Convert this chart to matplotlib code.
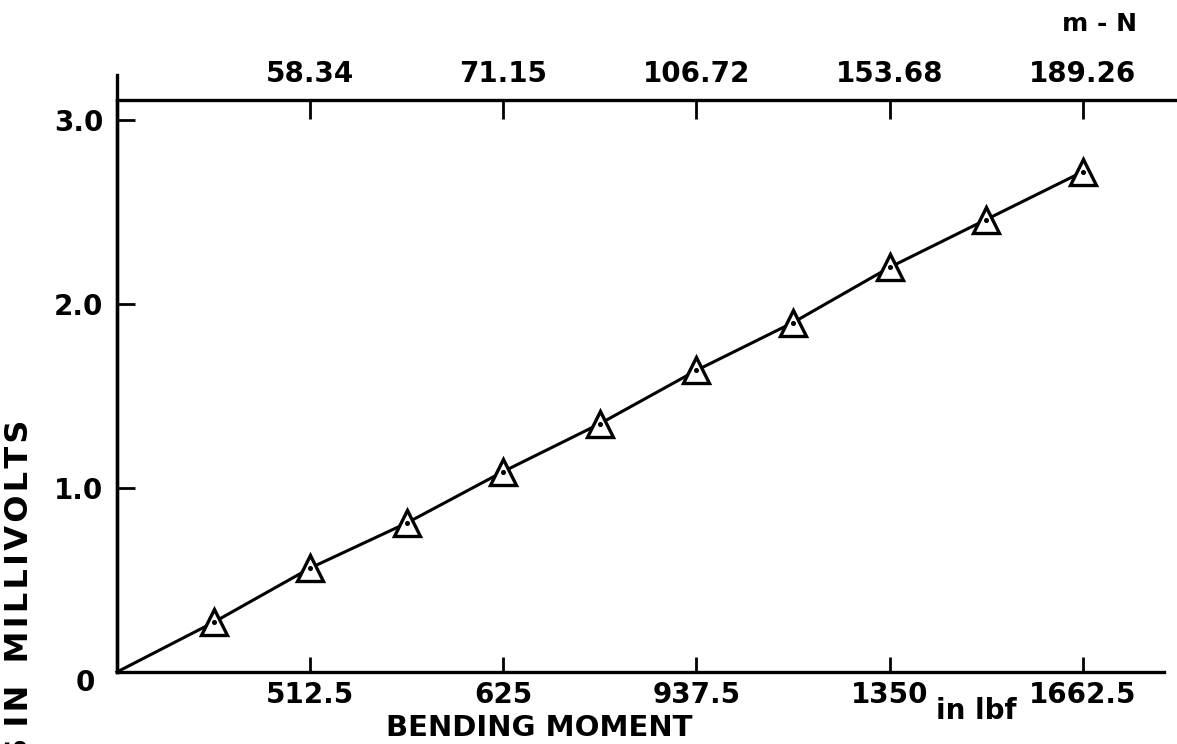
import matplotlib
matplotlib.use("Agg")
import matplotlib.pyplot as plt

# calibration points: bending moment step vs. output (mV)
moment_pos = [0.0, 0.5, 1.0, 1.5, 2.0, 2.5, 3.0, 3.5, 4.0, 4.5, 5.0]
millivolts = [0.0, 0.27, 0.565, 0.81, 1.09, 1.35, 1.64, 1.90, 2.20, 2.46, 2.72]

tick_pos = [1, 2, 3, 4, 5]
lbf_labels = ["512.5", "625", "937.5", "1350", "1662.5"]
mn_labels = ["58.34", "71.15", "106.72", "153.68", "189.26"]
mv_ticks = [0, 1.0, 2.0, 3.0]
mv_labels = ["0", "1.0", "2.0", "3.0"]
ylabel_words = ["READINGS", "IN", "MILLIVOLTS"]

plt.rcParams["font.family"] = "DejaVu Sans"
plt.rcParams["font.weight"] = "bold"

fig = plt.figure(figsize=(11.77, 7.44), dpi=100)
ax = fig.add_axes([0.0994, 0.0968, 0.8895, 0.7688])

xmax, ymax = 5.42, 3.11
ax.set_xlim(0, xmax)
ax.set_ylim(0, ymax)

# line through the points, open triangles with a centre dot
ax.plot(moment_pos, millivolts, color="black", lw=2.2, zorder=2, clip_on=False)
ax.plot(moment_pos[1:], millivolts[1:], ls="none", marker="^", ms=19,
        mfc="white", mec="black", mew=2.4, zorder=3)
ax.plot(moment_pos[1:], millivolts[1:], ls="none", marker="o", ms=2.6,
        color="black", zorder=4)

for side in ["top", "right"]:
    ax.spines[side].set_visible(False)
for side in ["left", "bottom"]:
    ax.spines[side].set_linewidth(2.4)

# top border runs past the right end, left border sticks up above it
ax.plot([0, 5.49], [ymax, ymax], color="black", lw=2.4, clip_on=False)
ax.plot([0, 0], [0, 3.245], color="black", lw=2.4, clip_on=False)

ax.set_xticks(tick_pos)
ax.set_xticklabels(lbf_labels)
# the zero label sits a little low, so it is placed by hand
ax.set_yticks(mv_ticks)
ax.set_yticklabels([""] + mv_labels[1:])
ax.annotate(mv_labels[0], xy=(0, mv_ticks[0]), xytext=(-16, -8),
            textcoords="offset points", fontsize=20, ha="right", va="center")
ax.tick_params(axis="x", direction="in", length=11, width=2, pad=6.5, labelsize=20)
ax.tick_params(axis="y", direction="in", length=13, width=2, pad=10, labelsize=20)
ax.yaxis.get_major_ticks()[0].tick1line.set_visible(False)

ax2 = ax.twiny()
ax2.set_xlim(0, xmax)
ax2.set_xticks(tick_pos)
ax2.set_xticklabels(mn_labels)
ax2.tick_params(axis="x", direction="in", length=14, width=2, pad=8.5, labelsize=20)
for s in ax2.spines.values():
    s.set_visible(False)

fig.text(539 / 1177, 1 - 728 / 744, "BENDING MOMENT", fontsize=21,
         ha="center", va="center")
fig.text(976 / 1177, 1 - 711 / 744, "in lbf", fontsize=20,
         ha="center", va="center")
fig.text(1100 / 1177, 1 - 24 / 744, "m - N", fontsize=18,
         ha="center", va="center")

# widely lettered axis title, hair spaces between letters
w = ["\u200a".join(word) for word in ylabel_words]
spaced = w[0] + " " + w[1] + "  " + w[2]
fig.text(20 / 1177, 1 - 420 / 744, spaced, fontsize=23,
         rotation=90, ha="center", va="top")

fig.savefig("out.png", dpi=100)
